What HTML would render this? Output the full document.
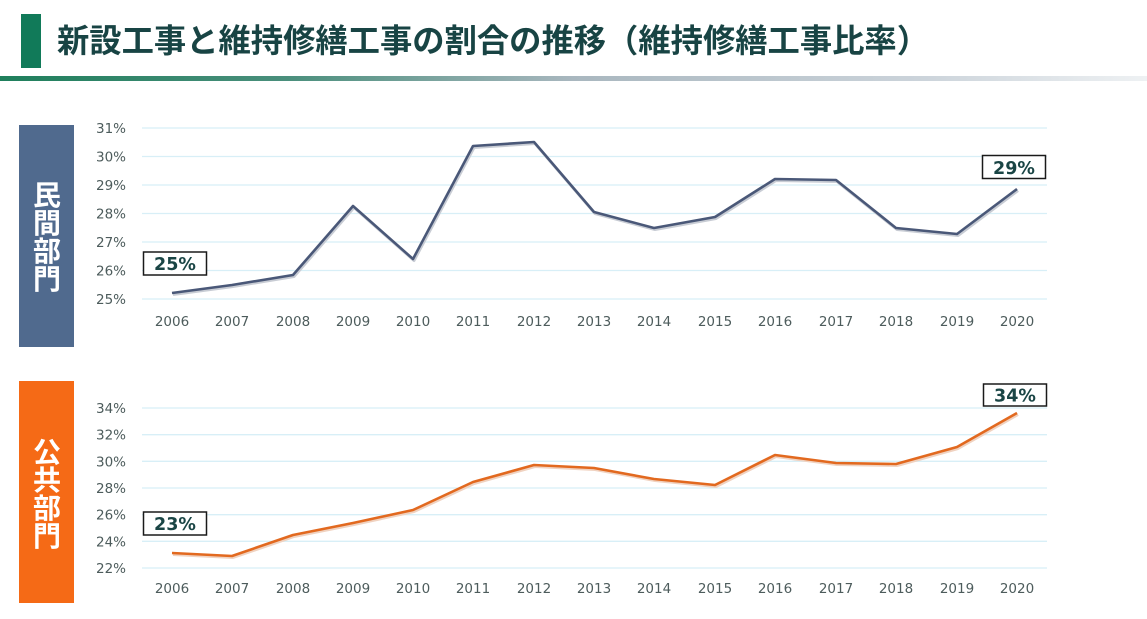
<!DOCTYPE html>
<html><head><meta charset="utf-8"><style>
html,body{margin:0;padding:0;background:#fff;}
svg{display:block;}
</style></head><body>
<svg width="1147" height="619" viewBox="0 0 1147 619" xmlns="http://www.w3.org/2000/svg">
<defs>
<linearGradient id="ul" x1="0" y1="0" x2="1" y2="0">
<stop offset="0" stop-color="#1f7f5c"/>
<stop offset="0.25" stop-color="#4a8f7c"/>
<stop offset="0.5" stop-color="#a9b7bf"/>
<stop offset="0.8" stop-color="#cbd3da"/>
<stop offset="1" stop-color="#eef1f3"/>
</linearGradient>
</defs>
<rect width="1147" height="619" fill="#fff"/>
<!-- title -->
<rect x="21" y="14" width="20" height="54" fill="#117a59"/>
<text x="57" y="52" font-family="'Liberation Sans','Noto Sans CJK JP',sans-serif" font-weight="bold" font-size="32.3" fill="#184444">新設工事と維持修繕工事の割合の推移（維持修繕工事比率）</text>
<rect x="0" y="76" width="1147" height="5" fill="url(#ul)"/>

<!-- side panels -->
<rect x="19" y="125" width="55" height="222" fill="#506a8e"/>
<text font-family="'Liberation Sans','Noto Sans CJK JP',sans-serif" font-weight="bold" font-size="28" fill="#fff" text-anchor="middle">
<tspan x="47" y="205">民</tspan><tspan x="47" y="233">間</tspan><tspan x="47" y="261">部</tspan><tspan x="47" y="289">門</tspan></text>
<rect x="19" y="381" width="55" height="222" fill="#f56a16"/>
<text font-family="'Liberation Sans','Noto Sans CJK JP',sans-serif" font-weight="bold" font-size="28" fill="#fff" text-anchor="middle">
<tspan x="47" y="462">公</tspan><tspan x="47" y="490">共</tspan><tspan x="47" y="518">部</tspan><tspan x="47" y="546">門</tspan></text>

<!-- top chart grid -->
<g stroke="#d8eff7" stroke-width="1.3">
<line x1="142" x2="1047" y1="128" y2="128"/>
<line x1="142" x2="1047" y1="156.5" y2="156.5"/>
<line x1="142" x2="1047" y1="185" y2="185"/>
<line x1="142" x2="1047" y1="213.5" y2="213.5"/>
<line x1="142" x2="1047" y1="242" y2="242"/>
<line x1="142" x2="1047" y1="270.5" y2="270.5"/>
<line x1="142" x2="1047" y1="299" y2="299"/>
</g>
<g font-family="'DejaVu Sans',sans-serif" font-size="13.5" fill="#4d5c5c" text-anchor="end">
<text x="126" y="133">31%</text>
<text x="126" y="161.5">30%</text>
<text x="126" y="190">29%</text>
<text x="126" y="218.5">28%</text>
<text x="126" y="247">27%</text>
<text x="126" y="275.5">26%</text>
<text x="126" y="304">25%</text>
</g>
<g font-family="'DejaVu Sans',sans-serif" font-size="13.5" fill="#4d5c5c" text-anchor="middle">
<text x="172" y="326">2006</text><text x="232" y="326">2007</text><text x="293" y="326">2008</text><text x="353" y="326">2009</text><text x="413" y="326">2010</text><text x="473" y="326">2011</text><text x="534" y="326">2012</text><text x="594" y="326">2013</text><text x="654" y="326">2014</text><text x="715" y="326">2015</text><text x="775" y="326">2016</text><text x="836" y="326">2017</text><text x="896" y="326">2018</text><text x="957" y="326">2019</text><text x="1017" y="326">2020</text>
</g>
<polyline fill="none" stroke="#c8ccd4" stroke-width="3" stroke-linejoin="round" transform="translate(1,1.5)" points="172,293 232,285 293,275 353,206 413,259 473,146 534,142 594,212 654,228 715,217 775,179 836,180 896,228 957,234 1017,189"/>
<polyline fill="none" stroke="#4a5878" stroke-width="2.6" stroke-linejoin="round" points="172,293 232,285 293,275 353,206 413,259 473,146 534,142 594,212 654,228 715,217 775,179 836,180 896,228 957,234 1017,189"/>
<rect x="143.5" y="252" width="63" height="23" fill="#fff" stroke="#1a1a1a" stroke-width="1.5"/>
<text x="175" y="270" font-family="'DejaVu Sans',sans-serif" font-weight="bold" font-size="17.5" fill="#1a4545" text-anchor="middle">25%</text>
<rect x="982.5" y="155.5" width="63" height="23" fill="#fff" stroke="#1a1a1a" stroke-width="1.5"/>
<text x="1014" y="174" font-family="'DejaVu Sans',sans-serif" font-weight="bold" font-size="17.5" fill="#1a4545" text-anchor="middle">29%</text>

<!-- bottom chart grid -->
<g stroke="#d8eff7" stroke-width="1.3">
<line x1="142" x2="1047" y1="408" y2="408"/>
<line x1="142" x2="1047" y1="434.7" y2="434.7"/>
<line x1="142" x2="1047" y1="461.3" y2="461.3"/>
<line x1="142" x2="1047" y1="488" y2="488"/>
<line x1="142" x2="1047" y1="514.7" y2="514.7"/>
<line x1="142" x2="1047" y1="541.3" y2="541.3"/>
<line x1="142" x2="1047" y1="568" y2="568"/>
</g>
<g font-family="'DejaVu Sans',sans-serif" font-size="13.5" fill="#4d5c5c" text-anchor="end">
<text x="126" y="413">34%</text>
<text x="126" y="439.7">32%</text>
<text x="126" y="466.3">30%</text>
<text x="126" y="493">28%</text>
<text x="126" y="519.7">26%</text>
<text x="126" y="546.3">24%</text>
<text x="126" y="573">22%</text>
</g>
<g font-family="'DejaVu Sans',sans-serif" font-size="13.5" fill="#4d5c5c" text-anchor="middle">
<text x="172" y="593">2006</text><text x="232" y="593">2007</text><text x="293" y="593">2008</text><text x="353" y="593">2009</text><text x="413" y="593">2010</text><text x="473" y="593">2011</text><text x="534" y="593">2012</text><text x="594" y="593">2013</text><text x="654" y="593">2014</text><text x="715" y="593">2015</text><text x="775" y="593">2016</text><text x="836" y="593">2017</text><text x="896" y="593">2018</text><text x="957" y="593">2019</text><text x="1017" y="593">2020</text>
</g>
<polyline fill="none" stroke="#f0d2c0" stroke-width="3" stroke-linejoin="round" transform="translate(1,1.5)" points="172,553 232,556 293,535 353,523 413,510 473,482 534,465 594,468 654,479 715,485 775,455 836,463 896,464 957,447 1017,413"/>
<polyline fill="none" stroke="#e2691f" stroke-width="2.6" stroke-linejoin="round" points="172,553 232,556 293,535 353,523 413,510 473,482 534,465 594,468 654,479 715,485 775,455 836,463 896,464 957,447 1017,413"/>
<rect x="143.5" y="512" width="63" height="23" fill="#fff" stroke="#1a1a1a" stroke-width="1.5"/>
<text x="175" y="530" font-family="'DejaVu Sans',sans-serif" font-weight="bold" font-size="17.5" fill="#1a4545" text-anchor="middle">23%</text>
<rect x="983.5" y="384" width="63" height="22" fill="#fff" stroke="#1a1a1a" stroke-width="1.5"/>
<text x="1015" y="401.5" font-family="'DejaVu Sans',sans-serif" font-weight="bold" font-size="17.5" fill="#1a4545" text-anchor="middle">34%</text>
</svg>
</body></html>
